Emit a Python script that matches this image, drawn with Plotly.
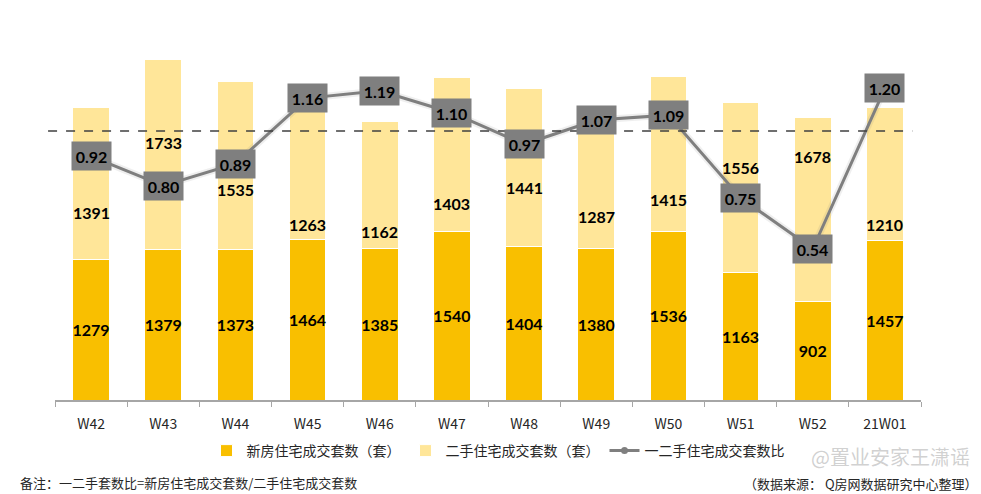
import plotly.graph_objects as go

weeks = ["W42", "W43", "W44", "W45", "W46", "W47", "W48", "W49", "W50", "W51", "W52", "21W01"]
new_units = [1279, 1379, 1373, 1464, 1385, 1540, 1404, 1380, 1536, 1163, 902, 1457]
second_units = [1391, 1733, 1535, 1263, 1162, 1403, 1441, 1287, 1415, 1556, 1678, 1210]
ratio = [0.92, 0.80, 0.89, 1.16, 1.19, 1.10, 0.97, 1.07, 1.09, 0.75, 0.54, 1.20]
ref_level = 1.025
# where each second-hand label sits inside its segment (0 = bottom, 1 = top)
second_label_frac = [0.31, 0.56, 0.36, 0.11, 0.13, 0.18, 0.37, 0.23, 0.21, 0.62, 0.79, 0.12]

C_NEW = "#F9BF00"
C_SEC = "#FFE699"
C_LINE = "#7F7F7F"
NUM_FONT = "Lato"
CJK_FONT = "Noto Sans CJK SC"

# page body has an 8px margin, so the figure is sized to fill the window from there
OFF = 8
W, H = 981 - OFF, 494 - OFF
L, R, T, B = 47, 60, 32, 94
PW, PH = W - L - R, H - T - B

fig = go.Figure()
fig.add_trace(go.Bar(
    x=weeks, y=new_units, name="新房住宅成交套数（套）",
    marker=dict(color=C_NEW, line=dict(color="white", width=1)),
    text=[str(v) for v in new_units], textposition="inside", insidetextanchor="middle",
    constraintext="none",
    textfont=dict(family=NUM_FONT, size=16, color="black", weight="bold"),
    textangle=0,
))
fig.add_trace(go.Bar(
    x=weeks, y=second_units, name="二手住宅成交套数（套）",
    marker=dict(color=C_SEC, line=dict(color="white", width=1)),
))
fig.add_trace(go.Scatter(
    x=weeks, y=ratio, yaxis="y2", mode="lines", showlegend=False, hoverinfo="skip",
    line=dict(color="rgba(120,120,120,0.12)", width=7),
))
fig.add_trace(go.Scatter(
    x=weeks, y=ratio, yaxis="y2", name="一二手住宅成交套数比", mode="lines+markers",
    line=dict(color=C_LINE, width=3), marker=dict(symbol="circle", size=7, color=C_LINE),
))

annotations = []
for w, n, s, f in zip(weeks, new_units, second_units, second_label_frac):
    annotations.append(dict(
        x=w, y=n + f * s, xref="x", yref="y", text=str(s), showarrow=False,
        font=dict(family=NUM_FONT, size=16, color="black", weight="bold"),
    ))
for w, r in zip(weeks, ratio):
    annotations.append(dict(
        x=w, y=r, xref="x", yref="y2", text=f"{r:.2f}", showarrow=False,
        bgcolor="#7F7F7F", width=39, height=28, borderpad=0,
        font=dict(family=NUM_FONT, size=16, color="black", weight="bold"),
    ))

def px(sx, sy):
    return (sx - OFF - L) / PW, (H - B - (sy - OFF)) / PH

foot = [
    (18, 482, "备注：一二手套数比=新房住宅成交套数/二手住宅成交套数", "left",
     dict(family=CJK_FONT, size=13, color="#262626")),
    (980, 483, "（数据来源： Q房网数据研究中心整理）", "right",
     dict(family=CJK_FONT, size=13, color="#262626")),
    (972, 457, "@置业安家王潇谣", "right",
     dict(family=CJK_FONT, size=20, color="rgba(170,170,170,0.55)")),
]
for sx, sy, txt, anc, fnt in foot:
    x, y = px(sx, sy)
    annotations.append(dict(x=x, y=y, xref="paper", yref="paper", text=txt, showarrow=False,
                            xanchor=anc, yanchor="middle", font=fnt))

lx, ly = px(498, 451)

fig.update_layout(
    width=W, height=H,
    margin=dict(l=L, r=R, t=T, b=B, autoexpand=False),
    barmode="stack", bargap=0.49,
    plot_bgcolor="white", paper_bgcolor="white",
    font=dict(family=CJK_FONT, size=13, color="#262626"),
    xaxis=dict(
        range=[-0.5, len(weeks) - 0.5],
        showline=True, linecolor="#A6A6A6", linewidth=1.5,
        ticks="outside", tickson="boundaries", ticklen=5, tickcolor="#A6A6A6",
        ticklabelstandoff=10,
        tickfont=dict(family=CJK_FONT, size=14, color="#262626"),
        showgrid=False,
    ),
    yaxis=dict(range=[0, PH / 0.1095], visible=False, showgrid=False, zeroline=False),
    yaxis2=dict(overlaying="y", range=[-20 / 243, -20 / 243 + PH / 243], visible=False,
                showgrid=False, zeroline=False),
    legend=dict(orientation="h", x=lx, xanchor="center", y=ly, yanchor="middle",
                font=dict(family=CJK_FONT, size=14, color="#262626"),
                traceorder="normal"),
    showlegend=True,
    annotations=annotations,
    shapes=[dict(type="line", xref="paper", yref="y2", x0=-0.008, x1=0.99,
                 y0=ref_level, y1=ref_level, line=dict(color="#404040", width=1.5, dash="dash"))],
)

fig.write_html("out.html")
